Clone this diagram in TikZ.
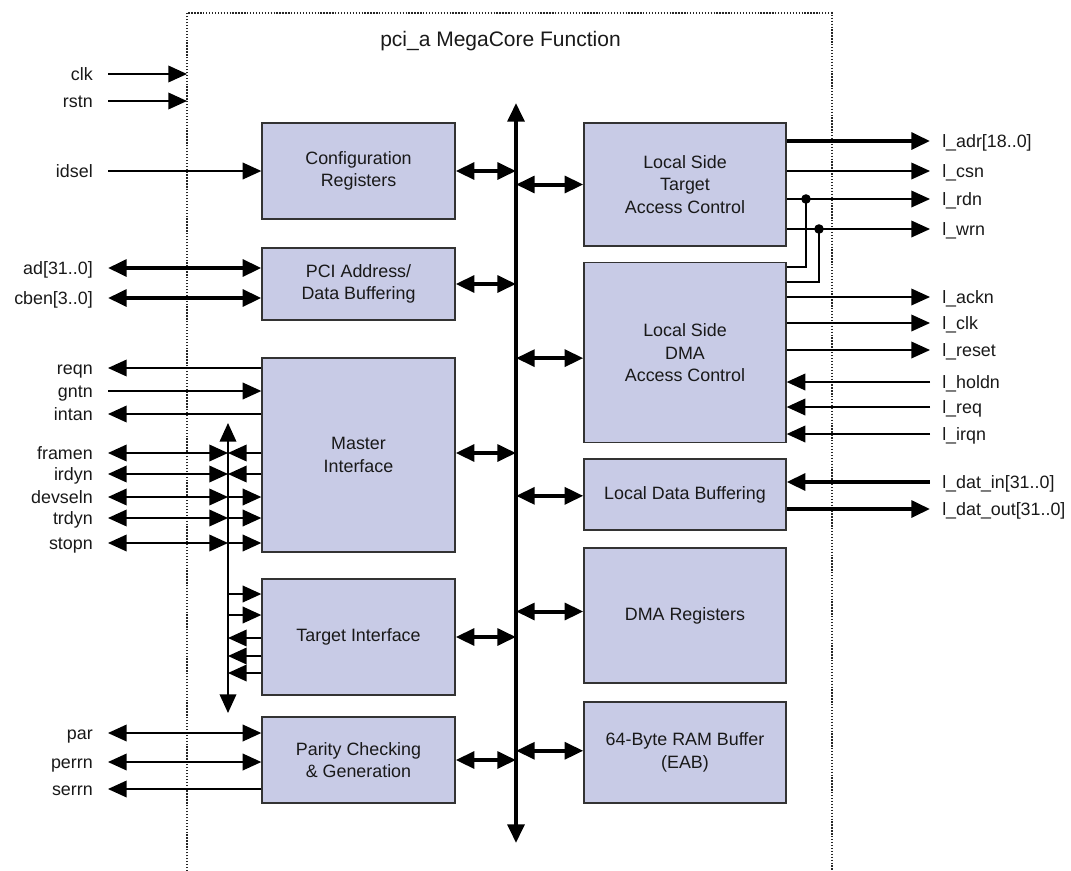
\documentclass[tikz,border=0pt]{standalone}
\usepackage{fontspec}
\setmainfont{Liberation Sans}
\usetikzlibrary{arrows.meta,positioning}
\definecolor{blockfill}{RGB}{200,203,230}

\begin{document}
\begin{tikzpicture}[x=0.75pt, y=-0.75pt, >={Triangle[length=14pt,width=12.5pt]}]
\fontsize{13.4}{16.9}\selectfont
\tikzstyle{block} = [rectangle, draw=black!80, line width=1pt, fill=blockfill,
  align=center, inner sep=0pt, text=black!90]
\tikzstyle{thin} = [line width=1.1pt, draw=black, fill=black]
\tikzstyle{wide} = [line width=3pt, draw=black, fill=black]
\tikzstyle{frame} = [line width=1pt, draw=black!85, dash pattern=on 1pt off 1.2pt]
\tikzstyle{pinl} = [anchor=east, inner xsep=11.25pt, inner ysep=0pt,
  text height=9.5pt, text depth=0pt, text=black!90]
\tikzstyle{pinr} = [anchor=west, inner xsep=9pt, inner ysep=0pt,
  text height=9.5pt, text depth=0pt, text=black!90]

    \useasboundingbox (0,0) rectangle (1071,871);

    % core outline and title
    \coordinate (fnw) at (187,13);
    \coordinate (fne) at (832,13);
    \draw [frame] (187,871) -- (fnw) -- (fne) -- (832,871);
    \node [font=\fontsize{15.75}{19}\selectfont, text=black!90] (title) at (500.5,41) {pci\_a MegaCore Function};

    % internal bus
    \coordinate (bustop) at (516,103);
    \coordinate (busbot) at (516,843);
    \draw [wide,<->] (bustop) -- (busbot);

    % left column
    \node [block, minimum width=144.75pt, minimum height=72pt] (cfg) at (358.5,171) {Configuration\\Registers};
    \node [block, minimum width=144.75pt, minimum height=54pt] (pci) at (358.5,284) {PCI Address/\\Data Buffering};
    \node [block, minimum width=144.75pt, minimum height=145.5pt] (master) at (358.5,455) {Master\\Interface};
    \node [block, minimum width=144.75pt, minimum height=87pt] (target) at (358.5,637) {Target Interface};
    \node [block, minimum width=144.75pt, minimum height=64.5pt] (parity) at (358.5,760) {Parity Checking\\\& Generation};

    % right column
    \node [block, minimum width=151.5pt, minimum height=92.25pt] (ltac) at (685,184.5) {Local Side\\Target\\Access Control};
    \node [block, minimum width=151.5pt, minimum height=135pt] (dma) at (685,352.8) {Local Side\\DMA\\Access Control};
    \node [block, minimum width=151.5pt, minimum height=53.25pt] (ldb) at (685,494.5) {Local Data Buffering};
    \node [block, minimum width=151.5pt, minimum height=101.25pt] (dmar) at (685,615.5) {DMA Registers};
    \node [block, minimum width=151.5pt, minimum height=75.75pt] (ram) at (685,752.5) {64-Byte RAM Buffer\\(EAB)};

    % bus taps
    \draw [wide,<->] (cfg.east) -- (cfg.east -| bustop);
    \draw [wide,<->] (pci.east) -- (pci.east -| bustop);
    \draw [wide,<->] ([yshift=1.5pt]master.east) -- ([yshift=1.5pt]master.east -| bustop);
    \draw [wide,<->] (target.east) -- (target.east -| bustop);
    \draw [wide,<->] (parity.east) -- (parity.east -| bustop);
    \draw [wide,<->] (ltac.west -| bustop) -- (ltac.west);
    \draw [wide,<->] ([yshift=-4pt]dma.west -| bustop) -- ([yshift=-4pt]dma.west);
    \draw [wide,<->] ([yshift=-1pt]ldb.west -| bustop) -- ([yshift=-1pt]ldb.west);
    \draw [wide,<->] ([yshift=3pt]dmar.west -| bustop) -- ([yshift=3pt]dmar.west);
    \draw [wide,<->] ([yshift=1.3pt]ram.west -| bustop) -- ([yshift=1.3pt]ram.west);

    % PCI side signals
    \node [pinl] (clk) at (108,74) {clk};
    \node [pinl] (rstn) at (108,101) {rstn};
    \node [pinl] (idsel) at (108,171) {idsel};
    \node [pinl] (ad) at (108,268) {ad[31..0]};
    \node [pinl] (cben) at (108,298) {cben[3..0]};
    \node [pinl] (reqn) at (108,368) {reqn};
    \node [pinl] (gntn) at (108,391) {gntn};
    \node [pinl] (intan) at (108,414) {intan};
    \node [pinl] (framen) at (108,453) {framen};
    \node [pinl] (irdyn) at (108,474) {irdyn};
    \node [pinl] (devseln) at (108,497) {devseln};
    \node [pinl] (trdyn) at (108,518) {trdyn};
    \node [pinl] (stopn) at (108,543) {stopn};
    \node [pinl] (par) at (108,733) {par};
    \node [pinl] (perrn) at (108,762) {perrn};
    \node [pinl] (serrn) at (108,789) {serrn};

    \draw [thin,->] (clk) -- (clk -| fnw);
    \draw [thin,->] (rstn) -- (rstn -| fnw);
    \draw [thin,->] (idsel) -- (idsel -| cfg.west);
    \draw [wide,<->] (ad) -- (ad -| pci.west);
    \draw [wide,<->] (cben) -- (cben -| pci.west);
    \draw [thin,<-] (reqn) -- (reqn -| master.west);
    \draw [thin,->] (gntn) -- (gntn -| master.west);
    \draw [thin,<-] (intan) -- (intan -| master.west);

    % shared control line
    \coordinate (tritop) at (228,423);
    \coordinate (tribot) at (228,713);
    \draw [thin,<->] (tritop) -- (tribot);
    \draw [thin,<->] (framen) -- (framen -| tritop);
    \draw [thin,->] (framen -| master.west) -- (framen -| tritop);
    \draw [thin,<->] (irdyn) -- (irdyn -| tritop);
    \draw [thin,->] (irdyn -| master.west) -- (irdyn -| tritop);
    \draw [thin,<->] (devseln) -- (devseln -| tritop);
    \draw [thin,->] (devseln -| tritop) -- (devseln -| master.west);
    \draw [thin,<->] (trdyn) -- (trdyn -| tritop);
    \draw [thin,->] (trdyn -| tritop) -- (trdyn -| master.west);
    \draw [thin,<->] (stopn) -- (stopn -| tritop);
    \draw [thin,->] (stopn -| tritop) -- (stopn -| master.west);
    \foreach \y in {594,615}
      \draw [thin,->] (tritop |- 0,\y) -- (target.west |- 0,\y);
    \foreach \y in {638,656,673}
      \draw [thin,->] (target.west |- 0,\y) -- (tritop |- 0,\y);

    \draw [thin,<->] (par) -- (par -| parity.west);
    \draw [thin,<->] (perrn) -- (perrn -| parity.west);
    \draw [thin,<-] (serrn) -- (serrn -| parity.west);

    % local side signals
    \node [pinr] (ladr) at (930,141) {l\_adr[18..0]};
    \node [pinr] (lcsn) at (930,171) {l\_csn};
    \node [pinr] (lrdn) at (930,199) {l\_rdn};
    \node [pinr] (lwrn) at (930,229) {l\_wrn};
    \node [pinr] (lackn) at (930,297) {l\_ackn};
    \node [pinr] (lclk) at (930,323) {l\_clk};
    \node [pinr] (lreset) at (930,350) {l\_reset};
    \node [pinr] (lholdn) at (930,382) {l\_holdn};
    \node [pinr] (lreq) at (930,407) {l\_req};
    \node [pinr] (lirqn) at (930,434) {l\_irqn};
    \node [pinr] (ldatin) at (930,482) {l\_dat\_in[31..0]};
    \node [pinr] (ldatout) at (930,509) {l\_dat\_out[31..0]};

    \draw [wide,->] (ladr -| ltac.east) -- (ladr);
    \draw [thin,->] (lcsn -| ltac.east) -- (lcsn);
    \draw [thin,->] (lrdn -| ltac.east) -- (lrdn);
    \draw [thin,->] (lwrn -| ltac.east) -- (lwrn);
    \coordinate (jrd) at (806,199);
    \coordinate (jwr) at (819,229);
    \draw [thin,fill=none] ([yshift=-3.5pt]dma.north east) -| (jrd);
    \draw [thin,fill=none] ([yshift=-14.8pt]dma.north east) -| (jwr);
    \fill [black] (jrd) circle (3.6pt);
    \fill [black] (jwr) circle (3.6pt);
    \draw [thin,->] (lackn -| dma.east) -- (lackn);
    \draw [thin,->] (lclk -| dma.east) -- (lclk);
    \draw [thin,->] (lreset -| dma.east) -- (lreset);
    \draw [thin,<-] (lholdn -| dma.east) -- (lholdn);
    \draw [thin,<-] (lreq -| dma.east) -- (lreq);
    \draw [thin,<-] (lirqn -| dma.east) -- (lirqn);
    \draw [wide,<-] (ldatin -| ldb.east) -- (ldatin);
    \draw [wide,->] (ldatout -| ldb.east) -- (ldatout);
\end{tikzpicture}
\end{document}
